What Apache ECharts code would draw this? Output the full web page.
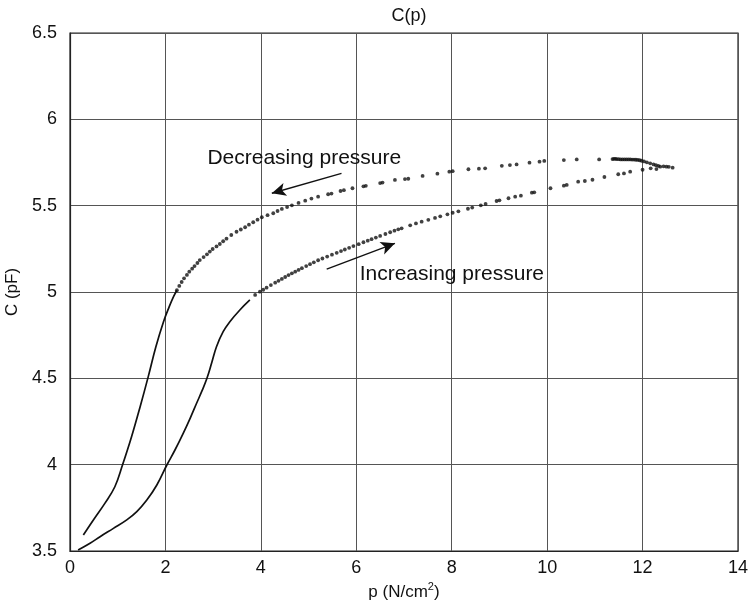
<!DOCTYPE html>
<html>
<head>
<meta charset="utf-8">
<title>C(p)</title>
<script src="https://cdn.jsdelivr.net/npm/echarts@6/dist/echarts.min.js"></script>
<style>
  html, body { margin: 0; padding: 0; background: #fff; }
  #chart { width: 751px; height: 603px; }
</style>
</head>
<body>
<div id="chart"></div>
<script>
// Capacitance C (pF) against pressure p (N/cm^2): loading and unloading branches.

// Tick layout
const xTicks = { min: 0, max: 14, step: 2 };
const yTicks = { min: 3.5, max: 6.5, step: 0.5 };

// Increasing pressure: continuous trace at low pressure
const incSolidP = [0.17, 0.42, 0.63, 0.91, 1.19, 1.40, 1.61, 1.82, 2.03, 2.20, 2.37, 2.52, 2.66, 2.77, 2.87, 2.97, 3.07, 3.21, 3.35, 3.56, 3.77];
const incSolidC = [3.506, 3.545, 3.583, 3.631, 3.680, 3.728, 3.795, 3.882, 3.998, 4.085, 4.180, 4.270, 4.360, 4.430, 4.500, 4.590, 4.683, 4.770, 4.828, 4.896, 4.954];

// Increasing pressure: sampled points
const incDotP = [3.88, 3.98, 4.05, 4.12, 4.21, 4.30, 4.37, 4.44, 4.51, 4.58, 4.65, 4.72, 4.79, 4.86, 4.95, 5.03, 5.11, 5.20, 5.29, 5.39, 5.49, 5.59, 5.68, 5.76, 5.85, 5.94, 6.05, 6.15, 6.24, 6.32, 6.41, 6.50, 6.61, 6.71, 6.80, 6.88, 6.95, 7.13, 7.25, 7.37, 7.51, 7.65, 7.76, 7.91, 8.02, 8.14, 8.34, 8.43, 8.61, 8.71, 8.94, 9.00, 9.19, 9.33, 9.45, 9.68, 9.73, 10.07, 10.35, 10.41, 10.65, 10.79, 10.95, 11.20, 11.49, 11.61, 11.74, 12.00, 12.17, 12.29, 12.37, 12.55];
const incDotC = [4.983, 5.002, 5.013, 5.025, 5.040, 5.054, 5.065, 5.076, 5.087, 5.098, 5.108, 5.118, 5.128, 5.138, 5.150, 5.161, 5.172, 5.184, 5.194, 5.205, 5.216, 5.227, 5.237, 5.246, 5.256, 5.266, 5.277, 5.288, 5.297, 5.306, 5.315, 5.325, 5.336, 5.346, 5.355, 5.363, 5.369, 5.386, 5.397, 5.407, 5.418, 5.429, 5.438, 5.450, 5.459, 5.467, 5.482, 5.489, 5.502, 5.510, 5.527, 5.531, 5.543, 5.552, 5.558, 5.575, 5.577, 5.601, 5.616, 5.620, 5.639, 5.643, 5.650, 5.666, 5.682, 5.687, 5.697, 5.708, 5.716, 5.712, 5.726, 5.725];

// Decreasing pressure: continuous trace at low pressure
const decSolidP = [0.28, 0.49, 0.73, 0.94, 1.10, 1.29, 1.47, 1.64, 1.80, 1.96, 2.08, 2.17, 2.24];
const decSolidC = [3.593, 3.680, 3.776, 3.872, 3.998, 4.162, 4.336, 4.510, 4.683, 4.828, 4.915, 4.973, 5.010];

// Decreasing pressure: sampled points
const decDotP = [2.24, 2.29, 2.34, 2.39, 2.45, 2.50, 2.56, 2.61, 2.67, 2.72, 2.80, 2.87, 2.93, 2.99, 3.07, 3.14, 3.21, 3.28, 3.38, 3.49, 3.58, 3.67, 3.75, 3.84, 3.93, 4.02, 4.14, 4.26, 4.35, 4.44, 4.55, 4.65, 4.79, 4.93, 5.06, 5.20, 5.41, 5.48, 5.67, 5.74, 5.92, 6.15, 6.20, 6.50, 6.55, 6.81, 7.02, 7.09, 7.39, 7.70, 7.95, 8.02, 8.35, 8.57, 8.70, 9.05, 9.22, 9.36, 9.63, 9.84, 9.94, 10.35, 10.62, 11.09, 11.37, 11.40, 11.43, 11.46, 11.50, 11.54, 11.58, 11.62, 11.66, 11.70, 11.74, 11.78, 11.82, 11.86, 11.90, 11.94, 11.98, 12.03, 12.09, 12.16, 12.23, 12.28, 12.33, 12.44, 12.50, 12.63];
const decDotC = [5.010, 5.035, 5.058, 5.079, 5.099, 5.118, 5.135, 5.150, 5.168, 5.185, 5.202, 5.218, 5.234, 5.249, 5.264, 5.278, 5.294, 5.309, 5.330, 5.349, 5.362, 5.375, 5.390, 5.404, 5.419, 5.433, 5.445, 5.456, 5.469, 5.481, 5.492, 5.502, 5.516, 5.529, 5.541, 5.552, 5.566, 5.570, 5.585, 5.590, 5.601, 5.612, 5.615, 5.631, 5.634, 5.649, 5.654, 5.656, 5.672, 5.685, 5.697, 5.700, 5.711, 5.714, 5.716, 5.731, 5.735, 5.739, 5.749, 5.755, 5.759, 5.764, 5.768, 5.768, 5.770, 5.771, 5.771, 5.770, 5.769, 5.768, 5.768, 5.768, 5.768, 5.768, 5.768, 5.767, 5.767, 5.766, 5.765, 5.763, 5.760, 5.756, 5.751, 5.745, 5.739, 5.734, 5.730, 5.728, 5.726, 5.720];

// Annotation arrows [fromP, fromC, toP, toC] and labels [p, C, text]
const decArrow = [5.69, 5.687, 4.23, 5.572];
const incArrow = [5.38, 5.133, 6.81, 5.282];
const decLabel = [2.88, 5.774, 'Decreasing pressure'];
const incLabel = [6.07, 5.104, 'Increasing pressure'];

const zip = (a, b) => a.map((v, i) => [v, b[i]]);

const ink = '#111111';
const font = 'Liberation Sans, Arial, Helvetica, sans-serif';

const chart = echarts.init(document.getElementById('chart'), null, { renderer: 'canvas' });

chart.setOption({
  animation: false,
  backgroundColor: '#ffffff',
  title: {
    text: 'C(p)',
    left: 404,
    textAlign: 'center',
    top: 2,
    textStyle: { fontFamily: font, fontSize: 18, fontWeight: 'normal', color: ink }
  },
  grid: {
    left: 70, right: 13, top: 33, bottom: 52,
    outerBoundsMode: 'none',
    containLabel: false,
    show: true, borderColor: '#222', borderWidth: 1.2, backgroundColor: 'transparent'
  },
  xAxis: {
    type: 'value',
    min: xTicks.min, max: xTicks.max, interval: xTicks.step,
    name: 'p (N/cm{sup|2})',
    nameLocation: 'middle',
    nameGap: 29,
    nameTextStyle: {
      fontFamily: font, fontSize: 17, color: ink,
      rich: { sup: { fontFamily: font, fontSize: 11, color: ink, verticalAlign: 'top', padding: [0, 0, 10, 0] } }
    },
    axisLine: { show: true, lineStyle: { color: '#222', width: 1.2 } },
    axisTick: { show: false },
    axisLabel: { fontFamily: font, fontSize: 18, color: ink, margin: 8 },
    splitLine: { show: true, lineStyle: { color: '#555', width: 1 } }
  },
  yAxis: {
    type: 'value',
    min: yTicks.min, max: yTicks.max, interval: yTicks.step,
    name: 'C (pF)',
    nameLocation: 'middle',
    nameGap: 39,
    nameRotate: 90,
    nameTextStyle: { fontFamily: font, fontSize: 17, color: ink },
    axisLine: { show: true, lineStyle: { color: '#222', width: 1.2 } },
    axisTick: { show: false },
    axisLabel: { fontFamily: font, fontSize: 18, color: ink, margin: 13 },
    splitLine: { show: true, lineStyle: { color: '#555', width: 1 } }
  },
  series: [
    {
      name: 'increasing (trace)',
      type: 'line',
      data: zip(incSolidP, incSolidC),
      smooth: 0.4,
      showSymbol: false,
      lineStyle: { color: ink, width: 1.7 },
      z: 3
    },
    {
      name: 'decreasing (trace)',
      type: 'line',
      data: zip(decSolidP, decSolidC),
      smooth: 0.4,
      showSymbol: false,
      lineStyle: { color: ink, width: 1.7 },
      z: 3
    },
    {
      name: 'increasing',
      type: 'scatter',
      data: zip(incDotP, incDotC),
      symbol: 'circle',
      symbolSize: 3.8,
      itemStyle: { color: ink },
      z: 3
    },
    {
      name: 'decreasing',
      type: 'scatter',
      data: zip(decDotP, decDotC),
      symbol: 'circle',
      symbolSize: 3.8,
      itemStyle: { color: ink },
      z: 3,
      markLine: {
        silent: true,
        symbol: ['none', 'arrow'],
        symbolSize: [10, 14],
        lineStyle: { color: ink, width: 1.4, type: 'solid' },
        label: { show: false },
        data: [
          [{ coord: [decArrow[0], decArrow[1]] }, { coord: [decArrow[2], decArrow[3]] }],
          [{ coord: [incArrow[0], incArrow[1]] }, { coord: [incArrow[2], incArrow[3]] }]
        ]
      },
      markPoint: {
        silent: true,
        symbol: 'circle',
        symbolSize: 0,
        label: {
          show: true,
          position: 'right',
          distance: 0,
          fontFamily: font,
          fontSize: 21,
          color: ink,
          formatter: (d) => d.name
        },
        data: [
          { name: decLabel[2], coord: [decLabel[0], decLabel[1]] },
          { name: incLabel[2], coord: [incLabel[0], incLabel[1]] }
        ]
      }
    }
  ]
});
</script>
</body>
</html>
